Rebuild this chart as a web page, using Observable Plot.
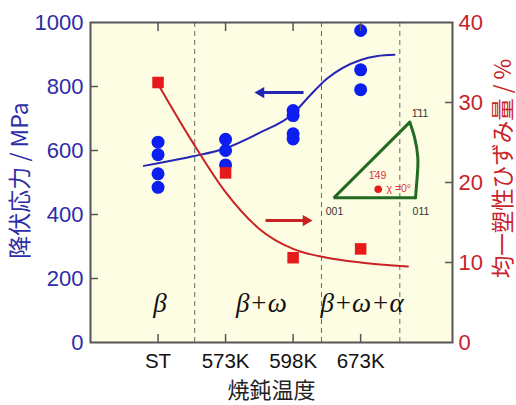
<!DOCTYPE html>
<html><head><meta charset="utf-8">
<script src="https://cdn.jsdelivr.net/npm/d3@7"></script>
<script src="https://cdn.jsdelivr.net/npm/@observablehq/plot@0.6"></script>
<style>html,body{margin:0;padding:0;background:#fff}</style>
</head><body><div id="chart"></div>
<script>
// ---- data ----
const categories = ["ST", "573K", "598K", "673K"];
const catPos = [1, 2, 3, 4];
const dividers = [1.543, 3.42, 4.58];

const stressX = [1, 1, 1, 1, 2, 2, 2, 3, 3, 3, 3, 4, 4, 4];
const stressMPa = [626, 587, 527, 485, 635, 600, 555, 725, 709, 652, 636, 975, 852, 790];

const strainX = [1, 2, 3, 4];
const strainPct = [32.5, 21.2, 10.6, 11.7];

const stressFitX = [0.79, 1, 1.5, 2, 2.5, 3, 3.25, 3.5, 4, 4.25, 4.5];
const stressFitMPa = [552, 560, 581, 607, 655, 715, 772, 824, 883, 895, 899];

const strainFitX = [1, 1.5, 2, 2.5, 3, 3.5, 4, 4.7];
const strainFitPct = [32.3, 25.2, 18.8, 14.2, 11.7, 10.6, 10.0, 9.5];

const phaseLabels = ["β", "β+ω", "β+ω+α"];
const phaseX = [1.03, 2.53, 4.02];
const phaseY = [122, 122, 122];

const leftTicks = [0, 200, 400, 600, 800, 1000];
const rightTicks = [0, 10, 20, 30, 40];
const MPA_PER_PCT = 25; // right axis 0–40 % maps to left 0–1000 MPa

// arrows (x1 -> head position, y in MPa)
const arrowBlue = {x1: 3.154, x2: 2.524, y: 781};
const arrowRed = {x1: 2.591, x2: 3.191, y: 381};

// inverse pole figure inset
const ipfStraightX = [4.812, 3.603, 4.728];
const ipfStraightY = [452, 452, 688.5];
const ipfArcX = [4.812, 4.837, 4.846, 4.797, 4.728];
const ipfArcY = [452, 516.5, 579, 641.5, 688.5];
const ipfLabels = ["001", "011", "1\u030411"];
const ipfLabelX = [3.613, 4.893, 4.879];
const ipfLabelY = [408, 408, 716];
const ipfPoint = {x: 4.26, y: 479, label: "1\u030449", labelX: 4.249, labelY: 521, chi: "χ =0°", chiX: 4.382, chiY: 480};

const xTitle = "焼鈍温度";
const yLeftTitle = "降伏応力 / MPa";
const yRightTitle = "均一塑性ひずみ量 / %";

// ---- colours ----
const blueDot = "#0d1ff0", blueLine = "#2525b5", blueAxis = "#2d2da6";
const redDot = "#e61a1a", redLine = "#c82222", redAxis = "#c8222a";
const frameColor = "#555";
const green = "#236b23";
const cjk = "'Noto Sans CJK JP', 'Liberation Sans', sans-serif";

const idx = (arr) => arr.map((_, i) => i);

const chart = Plot.plot({
  width: 516, height: 405,
  marginLeft: 90, marginRight: 64, marginTop: 22, marginBottom: 63,
  x: {domain: [0, 5.36], axis: null},
  y: {domain: [0, 1000], axis: null},
  style: {fontFamily: "'Liberation Sans', Arial, 'Noto Sans CJK JP', sans-serif", background: "#fff", overflow: "visible"},
  marks: [
    Plot.frame({fill: "#fdfde4", stroke: null}),
    Plot.ruleX(dividers, {x: d => d, stroke: "#666", strokeDasharray: "5,4", strokeWidth: 1}),
    // phase labels
    Plot.text(idx(phaseLabels), {x: i => phaseX[i], y: i => phaseY[i], text: i => phaseLabels[i],
      fontFamily: "'Liberation Serif', 'DejaVu Serif', serif", fontStyle: "italic", fontSize: 27, fill: "#111", lineAnchor: "middle"}),
    // fitted curves
    Plot.line(idx(stressFitX), {x: i => stressFitX[i], y: i => stressFitMPa[i], curve: "monotone-x", stroke: blueLine, strokeWidth: 2}),
    Plot.line(idx(strainFitX), {x: i => strainFitX[i], y: i => strainFitPct[i] * MPA_PER_PCT, curve: "monotone-x", stroke: redLine, strokeWidth: 2}),
    // data points
    Plot.dot(idx(stressX), {x: i => stressX[i], y: i => stressMPa[i], r: 6.5, fill: blueDot, stroke: null}),
    Plot.dot(idx(strainX), {x: i => strainX[i], y: i => strainPct[i] * MPA_PER_PCT, symbol: "square", r: 6.5, fill: redDot, stroke: null}),
    // arrows
    Plot.link([arrowBlue], {x1: d => d.x1, x2: d => d.x2, y1: d => d.y, y2: d => d.y, stroke: blueLine, strokeWidth: 3}),
    Plot.dot([arrowBlue], {x: d => d.x2, y: d => d.y, symbol: "triangle", r: 4.2, rotate: -90, fill: blueLine, stroke: null}),
    Plot.link([arrowRed], {x1: d => d.x1, x2: d => d.x2, y1: d => d.y, y2: d => d.y, stroke: redLine, strokeWidth: 3}),
    Plot.dot([arrowRed], {x: d => d.x2, y: d => d.y, symbol: "triangle", r: 4.2, rotate: 90, fill: redLine, stroke: null}),
    // inverse pole figure inset
    Plot.line(idx(ipfStraightX), {x: i => ipfStraightX[i], y: i => ipfStraightY[i], stroke: green, strokeWidth: 3, strokeLinejoin: "miter"}),
    Plot.line(idx(ipfArcX), {x: i => ipfArcX[i], y: i => ipfArcY[i], curve: "natural", stroke: green, strokeWidth: 3}),
    Plot.text(idx(ipfLabels), {x: i => ipfLabelX[i], y: i => ipfLabelY[i], text: i => ipfLabels[i], fontSize: 10.5, fill: "#333", lineAnchor: "middle"}),
    Plot.dot([ipfPoint], {x: "x", y: "y", r: 3.8, fill: redDot, stroke: null}),
    Plot.text([ipfPoint], {x: "labelX", y: "labelY", text: "label", fontSize: 10.5, fill: "#e0303a", lineAnchor: "middle"}),
    Plot.text([ipfPoint], {x: "chiX", y: "chiY", text: "chi", fontSize: 10.5, fill: "#e0303a", textAnchor: "start", lineAnchor: "middle"}),
    // axes: inward ticks
    Plot.axisY({anchor: "left", ticks: [200, 400, 600, 800], tickSize: -8, tickFormat: () => "", stroke: frameColor, strokeWidth: 1.5, label: null}),
    Plot.axisY({anchor: "right", ticks: [10, 20, 30].map(v => v * MPA_PER_PCT), tickSize: -8, tickFormat: () => "", stroke: frameColor, strokeWidth: 1.5, label: null}),
    Plot.axisX({anchor: "bottom", ticks: catPos, tickSize: -8, tickFormat: () => "", stroke: frameColor, strokeWidth: 1.5, label: null}),
    Plot.axisX({anchor: "top", ticks: catPos, tickSize: -8, tickFormat: () => "", stroke: frameColor, strokeWidth: 1.5, label: null}),
    // axes: labels
    Plot.axisY({anchor: "left", ticks: leftTicks, tickFormat: d => String(d), tickSize: 0, tickPadding: 7, fontSize: 22, color: blueAxis, label: null}),
    Plot.axisY({anchor: "right", ticks: rightTicks.map(v => v * MPA_PER_PCT), tickFormat: d => String(Math.round(d / MPA_PER_PCT)), tickSize: 0, tickPadding: 6, fontSize: 22, color: redAxis, label: null}),
    Plot.axisX({anchor: "bottom", ticks: catPos, tickFormat: d => categories[catPos.indexOf(d)], tickSize: 0, tickPadding: 11, fontSize: 20.5, color: "#111", label: null}),
    // titles
    Plot.text([xTitle], {frameAnchor: "bottom", dy: 48.5, text: d => d, fontSize: 22, fontFamily: cjk, fill: "#222", lineAnchor: "middle", textAnchor: "middle"}),
    Plot.text([yLeftTitle], {frameAnchor: "left", dx: -70, dy: -2, rotate: -90, text: d => d, fontSize: 23, fontFamily: cjk, fill: blueAxis, lineAnchor: "middle", textAnchor: "middle"}),
    Plot.text([yRightTitle], {frameAnchor: "right", dx: 51, dy: -14, rotate: -90, text: d => d, fontSize: 22.5, fontFamily: cjk, fill: redAxis, lineAnchor: "middle", textAnchor: "middle"}),
    Plot.frame({stroke: frameColor, strokeWidth: 2})
  ]
});
document.getElementById("chart").appendChild(chart);
</script>
</body></html>
